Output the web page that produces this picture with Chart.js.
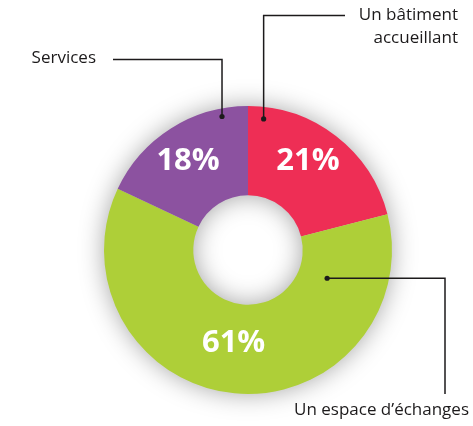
<!DOCTYPE html>
<html>
<head>
<meta charset="utf-8">
<script src="https://cdn.jsdelivr.net/npm/chart.js@4.4.1/dist/chart.umd.min.js"></script>
<style>
  html, body { margin: 0; padding: 0; background: #fff; }
  #wrap { width: 473px; height: 426px; position: relative; }
</style>
</head>
<body>
<div id="wrap"><canvas id="myChart" width="473" height="426"></canvas></div>
<script>
// data
const categories = ['Un bâtiment accueillant', 'Un espace d’échanges', 'Services'];
const shares = [21, 61, 18];
const sliceColors = ['#ee2e55', '#aecf38', '#8c52a0'];

// where each leader line touches its slice, and where the % text sits
// (fraction along the arc, radius in px from centre)
const leaders = [
  { frac: 0.09, r: 132, labFrac: 0.446, labR: 108 },
  { frac: 0.155, r: 84, labFrac: 0.516, labR: 93 },
  { frac: 0.83, r: 136, labFrac: 0.48, labR: 108 }
];

const ctx = document.getElementById('myChart').getContext('2d');

// soft grey glow under the ring
const ringShadow = {
  id: 'ringShadow',
  beforeDatasetsDraw(chart) {
    const arc = chart.getDatasetMeta(0).data[0];
    if (!arc) return;
    const c = chart.ctx;
    c.save();
    c.shadowColor = 'rgba(0,0,0,0.38)';
    c.shadowBlur = 26;
    c.fillStyle = '#cccccc';
    c.beginPath();
    c.arc(arc.x, arc.y, arc.outerRadius - 1, 0, Math.PI * 2);
    c.arc(arc.x, arc.y, arc.innerRadius + 1, 0, Math.PI * 2, true);
    c.fill();
    c.restore();
  }
};

// percent labels + leader lines with category names
const annotations = {
  id: 'annotations',
  afterDatasetsDraw(chart) {
    const c = chart.ctx;
    const meta = chart.getDatasetMeta(0);
    const pts = [];

    meta.data.forEach((arc, i) => {
      const L = leaders[i];
      const span = arc.endAngle - arc.startAngle;
      const la = arc.startAngle + L.labFrac * span;
      c.save();
      c.fillStyle = '#fff';
      c.font = 'bold 31px "Open Sans", sans-serif';
      c.textAlign = 'center';
      c.textBaseline = 'middle';
      c.fillText(shares[i] + '%', arc.x + Math.cos(la) * L.labR, arc.y + Math.sin(la) * L.labR + 1);
      c.restore();

      const a = arc.startAngle + L.frac * span;
      pts.push({ x: arc.x + Math.cos(a) * L.r, y: arc.y + Math.sin(a) * L.r });
    });

    c.save();
    c.strokeStyle = '#1c1a1b';
    c.fillStyle = '#1c1a1b';
    c.lineWidth = 1.5;

    // Un bâtiment accueillant
    c.beginPath();
    c.moveTo(pts[0].x, pts[0].y);
    c.lineTo(pts[0].x, 15.5);
    c.lineTo(345, 15.5);
    c.stroke();
    // Un espace d'échanges
    c.beginPath();
    c.moveTo(pts[1].x, pts[1].y);
    c.lineTo(445, pts[1].y);
    c.lineTo(445, 394);
    c.stroke();
    // Services
    c.beginPath();
    c.moveTo(pts[2].x, pts[2].y);
    c.lineTo(pts[2].x, 59.5);
    c.lineTo(113, 59.5);
    c.stroke();

    pts.forEach(p => {
      c.beginPath();
      c.arc(p.x, p.y, 2.6, 0, Math.PI * 2);
      c.fill();
    });

    c.font = '17px "Open Sans", sans-serif';
    c.textBaseline = 'middle';
    c.textAlign = 'right';
    c.fillText('Un bâtiment', 458, 15);
    c.fillText('accueillant', 458, 38);
    c.fillText('Un espace d’échanges', 469, 410);
    c.fillText('Services', 96, 58);
    c.restore();
  }
};

new Chart(ctx, {
  type: 'doughnut',
  data: {
    labels: categories,
    datasets: [{
      data: shares,
      backgroundColor: sliceColors,
      borderWidth: 0,
      hoverOffset: 0
    }]
  },
  options: {
    responsive: false,
    animation: false,
    cutout: '38%',
    layout: { padding: { top: 106, bottom: 32, left: 23, right: 0 } },
    plugins: {
      legend: { display: false },
      tooltip: { enabled: false }
    }
  },
  plugins: [ringShadow, annotations]
});
</script>
</body>
</html>
